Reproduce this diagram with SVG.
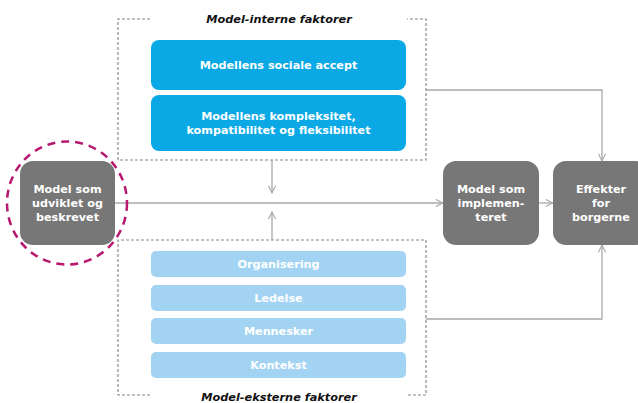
<svg xmlns="http://www.w3.org/2000/svg" width="638" height="403" viewBox="0 0 638 403">
<defs>
<style>
.frame{fill:none;stroke:#888;stroke-width:1.2;stroke-dasharray:3,2}
.title{font-family:"DejaVu Sans",Verdana,sans-serif;font-size:11.3px;font-weight:bold;font-style:italic;fill:#111;text-anchor:middle}
.blue{fill:#0aa9e6}
.lblue{fill:#a3d3f3}
.gray{fill:#777}
.wt{font-family:"DejaVu Sans",Verdana,sans-serif;font-size:11.2px;font-weight:bold;fill:#fff;text-anchor:middle}
.line{fill:none;stroke:#a8a8a8;stroke-width:1.3}
</style>
<marker id="arr" viewBox="0 0 10 10" refX="9" refY="5" markerWidth="9" markerHeight="9" orient="auto" markerUnits="userSpaceOnUse">
<path d="M1,1 L9,5 L1,9" fill="none" stroke="#a8a8a8" stroke-width="1.2"/>
</marker>
</defs>
<rect width="638" height="403" fill="#fff"/>

<g id="internal">
<path class="frame" d="M150,19 H118 V160 H426 V19 H407"/>
<text class="title" x="279" y="23">Model-interne faktorer</text>
<rect class="blue" x="151" y="40" width="255" height="50" rx="8"/>
<text class="wt" x="278.5" y="69">Modellens sociale accept</text>
<rect class="blue" x="151" y="95" width="255" height="56" rx="8"/>
<text class="wt" x="278.5" y="120">Modellens kompleksitet,</text>
<text class="wt" x="278.5" y="134">kompatibilitet og fleksibilitet</text>
</g>

<g id="external">
<path class="frame" d="M150,395 H118 V240 H426 V395 H407"/>
<text class="title" x="279" y="401">Model-eksterne faktorer</text>
<rect class="lblue" x="151" y="251" width="255" height="26" rx="5"/>
<text class="wt" x="278.5" y="268">Organisering</text>
<rect class="lblue" x="151" y="285" width="255" height="26" rx="5"/>
<text class="wt" x="278.5" y="302">Ledelse</text>
<rect class="lblue" x="151" y="318" width="255" height="26" rx="5"/>
<text class="wt" x="278.5" y="335">Mennesker</text>
<rect class="lblue" x="151" y="352" width="255" height="26" rx="5"/>
<text class="wt" x="278.5" y="369">Kontekst</text>
</g>

<g id="connectors">
<line class="line" x1="115" y1="203" x2="443" y2="203" marker-end="url(#arr)"/>
<line class="line" x1="539" y1="203" x2="553" y2="203" marker-end="url(#arr)"/>
<line class="line" x1="272" y1="160" x2="272" y2="193" marker-end="url(#arr)"/>
<line class="line" x1="272" y1="240" x2="272" y2="212" marker-end="url(#arr)"/>
<polyline class="line" points="426,90 602,90 602,161" marker-end="url(#arr)"/>
<polyline class="line" points="426,319 602,319 602,245" marker-end="url(#arr)"/>
</g>

<g id="node-udviklet">
<rect class="gray" x="20" y="161" width="95" height="84" rx="13"/>
<text class="wt" x="67.5" y="193">Model som</text>
<text class="wt" x="67.5" y="207">udviklet og</text>
<text class="wt" x="67.5" y="221">beskrevet</text>
<ellipse cx="67" cy="203" rx="60" ry="61.5" fill="none" stroke="#b8176f" stroke-width="2.5" stroke-dasharray="8,6"/>
</g>

<g id="node-implementeret">
<rect class="gray" x="443" y="161" width="96" height="84" rx="13"/>
<text class="wt" x="491" y="193">Model som</text>
<text class="wt" x="491" y="207">implemen-</text>
<text class="wt" x="491" y="221">teret</text>
</g>

<g id="node-effekter">
<rect class="gray" x="553" y="161" width="96" height="84" rx="13"/>
<text class="wt" x="601" y="193">Effekter</text>
<text class="wt" x="601" y="207">for</text>
<text class="wt" x="601" y="221">borgerne</text>
</g>
</svg>
